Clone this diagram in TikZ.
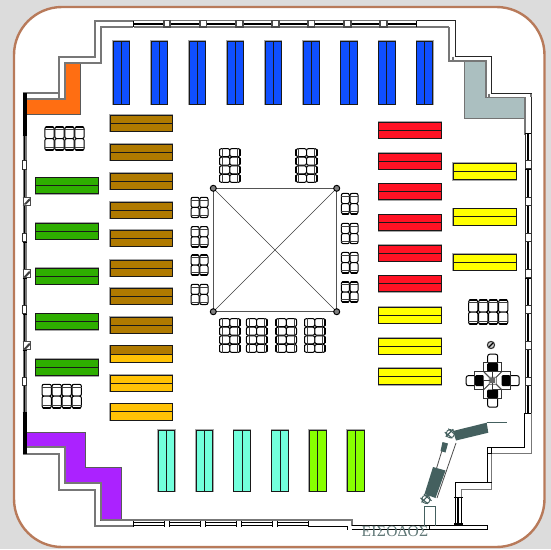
\documentclass[tikz,border=0pt]{standalone}
\usepackage{fontspec}
\newfontfamily\signfont[LetterSpace=2.5]{Liberation Serif}
\definecolor{bgc}{HTML}{DCDCDC}
\definecolor{framec}{HTML}{B87A5A}
\definecolor{wallg}{HTML}{777777}
\definecolor{slatec}{HTML}{44605F}
\definecolor{cblue}{HTML}{0F4FFF}
\definecolor{cbrown}{HTML}{B07A00}
\definecolor{cgreen}{HTML}{2EAE00}
\definecolor{corange}{HTML}{FF6E12}
\definecolor{cpurple}{HTML}{AB22FF}
\definecolor{cred}{HTML}{FF1224}
\definecolor{cyellow}{HTML}{FFFF00}
\definecolor{cgold}{HTML}{FFC205}
\definecolor{ccyan}{HTML}{72FFDC}
\definecolor{clime}{HTML}{88FF00}
\definecolor{cgrey}{HTML}{ABBFC0}
\tikzset{
 halo/.style={draw=gray!70,line width=1.8},
 shelfline/.style={draw=black!90,line width=.9},
 wallout/.style={draw=wallg,line width=1.7,line join=miter},
 wallblk/.style={draw=black!85,line width=1.2,line join=miter},
 area/.style={draw=black!65,line width=.9,line join=miter},
 chairline/.style={draw=black,line width=1},
 slateline/.style={draw=slatec,line width=.8},
}
\newcommand{\shelfH}[6][]{%
 \path[halo] (#2,#3) rectangle (#4,#5);
 \fill[#6] (#2,#3) rectangle (#4,#5);
 \path[shelfline] (#2,#3) rectangle (#4,#5) (#2,{(#3+#5)/2}) -- (#4,{(#3+#5)/2});}
\newcommand{\shelfV}[5]{%
 \path[halo] (#1,#2) rectangle (#3,#4);
 \fill[#5] (#1,#2) rectangle (#3,#4);
 \path[shelfline] (#1,#2) rectangle (#3,#4) ({(#1+#3)/2},#2) -- ({(#1+#3)/2},#4);}
\newcommand{\chairW}[5]{%
 \begin{scope}[shift={({#1},{#2})},rotate=#3]
 \draw[chairline,fill=white,rounded corners=2] ({-#4/2+.3},{-#5/2}) rectangle ({#4/2-.3},{#5/2});
 \draw[black,line width=1.5,line cap=round] ({-#4/2+1.5},{-#5/2}) -- ({#4/2-1.5},{-#5/2});
 \draw[black!75,line width=.7] ({-#4/2},{-#5/2+2.6}) -- ({#4/2},{-#5/2+2.6});
 \end{scope}}
\newcommand{\groupH}[5]{%
 \foreach \i in {1,...,#3}{
  \chairW{#1+(\i-.5)*#4}{#2+#5/2}{0}{#4}{#5}
  \chairW{#1+(\i-.5)*#4}{#2+1.5*#5}{180}{#4}{#5}}}
\newcommand{\groupV}[5]{%
 \foreach \i in {1,...,#3}{
  \chairW{#1+#5/2}{#2+(\i-.5)*#4}{90}{#4}{#5}
  \chairW{#1+1.5*#5}{#2+(\i-.5)*#4}{-90}{#4}{#5}}}
\newcommand{\winTop}[2]{%
 \fill[white] (#1,20.7) rectangle (#2,27);
 \draw[wallg,line width=1.3] (#1,20.7) -- (#2,20.7) (#1,27) -- (#2,27);
 \draw[black,line width=1.5] (#1,24) -- (#2,24);
 \draw[black,line width=1.1] (#1,21) -- (#1,27) (#2,21) -- (#2,27);}
\newcommand{\winBot}[2]{%
 \fill[white] (#1,520) rectangle (#2,526);
 \draw[black,line width=1] (#1,522) -- (#2,522) (#1,525.7) -- (#2,525.7) (#1,520) -- (#1,526.5) (#2,520) -- (#2,526.5);}
\newcommand{\winLeft}[2]{%
 \fill[wallg] (22.7,#1) rectangle (27.3,#2);
 \draw[black,line width=1.2] (24.7,#1) -- (24.7,#2);
 \draw[black,line width=1] (22.5,#1) -- (27,#1) (22.5,#2) -- (27,#2);}
\newcommand{\winRight}[2]{%
 \fill[white] (525,#1) rectangle (531,#2);
 \draw[black!80,line width=1] (525,#1) -- (525,#2) (531,#1) -- (531,#2);
 \draw[black,line width=1.6] (528,#1) -- (528,#2);
 \draw[black,line width=1] (525,#1) -- (531,#1) (525,#2) -- (531,#2);}
\newcommand{\hatchbox}[1]{%
 \fill[white] (23,#1) rectangle (30.5,#1+8);
 \draw[black!70,line width=.8] (23,#1) rectangle (30.5,#1+8);
 \fill[black!75] (23.5,#1+7.5) -- (29.5,#1+1) -- (30,#1+3.5) -- (26,#1+7.5) -- cycle;}
\newcommand{\hinge}[2]{%
 \draw[slateline,fill=white,line width=.9] (#1,#2) circle (4.2);
 \draw[slateline,line width=1.1] (#1-5.5,#2-1.5) -- (#1+2,#2+4.5) (#1-2,#2-5) -- (#1+5.5,#2+1.5) (#1-4.5,#2+3) -- (#1+3,#2-4.5);}
\begin{document}
\begin{tikzpicture}[x=1pt,y=-1pt]
\useasboundingbox (0,0) rectangle (551,549);
\fill[bgc] (0,0) rectangle (551,549);
\draw[framec,line width=2.4,fill=white,rounded corners=48] (14,7) rectangle (544.5,547);

% coloured corner areas
\path[area,fill=corange] (65,63.5) -- (80.7,63.5) -- (80.7,114.3) -- (26,114.3) -- (26,99.3) -- (65,99.3) -- cycle;
\path[area,fill=cpurple] (26.7,432) -- (85.7,432) -- (85.7,467.7) -- (121.3,467.7) -- (121.3,520) -- (100.7,520) -- (100.7,483.3) -- (65,483.3) -- (65,447.3) -- (26.7,447.3) -- cycle;
\path[draw=black!55,line width=1.1,fill=cgrey] (464.3,61.3) -- (485.7,61.3) -- (485.7,97.3) -- (524.7,97.3) -- (524.7,118.3) -- (464.3,118.3) -- cycle;

% stepped walls
\path[wallout] (26.7,99) -- (64.7,99) -- (64.7,63.3) -- (100.7,63.3) -- (100.7,27) -- (133,27);
\path[wallout] (22.7,93.3) -- (58.7,93.3) -- (58.7,56.7) -- (94.7,56.7) -- (94.7,20.7) -- (133.5,20.7);
\path[wallout] (26.7,447.3) -- (64.7,447.3) -- (64.7,483.3) -- (100.7,483.3) -- (100.7,520);
\path[wallout] (22.7,454) -- (58.7,454) -- (58.7,490) -- (94.7,490) -- (94.7,525.7) -- (133.5,525.7);
\draw[wallout] (64.7,99) -- (58.7,99) -- (58.7,93.3);
\fill[black] (22.7,93) rectangle (27,135);
\fill[black] (22.7,412) rectangle (27,454);

% top wall
\winTop{133.5}{164}\winTop{170}{200}\winTop{206.5}{236}\winTop{243}{272}\winTop{279}{308}\winTop{314.5}{344}\winTop{351}{380}\winTop{387}{416.5}
\foreach \a/\b in {164/170,200/206.5,236/243,272/279,308/314.5,344/351,380/387}{
 \draw[black!70,line width=1.1,fill=white] (\a,20.7) rectangle (\b,27);}
\draw[wallout] (416.5,27) -- (449.3,27);
% top-right steps
\path[wallblk] (416.5,20.7) -- (455.3,20.7) -- (455.3,56.7) -- (491.3,56.7) -- (491.3,93.7) -- (531.3,93.7) -- (531.3,135);
\path[wallout] (449.3,27) -- (449.3,61.3) -- (485.7,61.3) -- (485.7,97.3);
\draw[wallg,line width=1.2] (453,56.7) -- (453,61.3) (489,93.7) -- (489,97.3) (531,93.7) -- (531,97.3);
\draw[wallout] (524.7,97.3) -- (524.7,135);

% left wall
\foreach \a/\b in {135/160.5,169.5/197,205/233,242/269,278/305,314/341,350/377,385/412}{\winLeft{\a}{\b}}
\foreach \a in {160.5,233,305,377}{\draw[black!80,line width=.9,fill=white] (22.7,\a) rectangle (26.8,\a+8.7);}
\hatchbox{197}\hatchbox{269.5}\hatchbox{341.5}

% right wall
\foreach \a/\b in {133/160.7,169.3/197,205/233,241/269,278/305.5,313.5/341,349/377,385/413}{\winRight{\a}{\b}}
\foreach \a in {160.7,197,233,269.5,305.5,341,377}{\draw[black!80,line width=.9,fill=white] (525,\a) rectangle (531,\a+8.2);}
% bottom-right walls
\draw[black,line width=1.2] (524.6,413) -- (524.6,447.3) -- (487.3,447.3) -- (487.3,482.7) -- (455.3,482.7) -- (455.3,497);
\draw[wallg,line width=1.5] (531.5,413) -- (531.5,453.3) -- (491.7,453.3) -- (491.7,489.3) -- (461.7,489.3) -- (461.7,497);
\draw[black,line width=1] (487.3,453.3) -- (491.7,453.3);
\draw[black,line width=1] (491.7,447.3) -- (491.7,453.3) (487.3,482.7) -- (491.7,482.7);
\draw[black,line width=1.3] (458,497) -- (458,525) (455.3,497) -- (455.3,525) (461.7,497) -- (461.7,525);
\draw[black,line width=1] (454,497.5) -- (462.5,497.5);
\fill[black] (454,523) rectangle (463,526);
\draw[black,line width=1,fill=white] (429.3,525) rectangle (487.7,529.3);

% bottom wall
\winBot{133.5}{164.3}\winBot{169.2}{200}\winBot{205.7}{236.7}\winBot{241.7}{272.3}\winBot{277.7}{308.3}
\draw[wallg,line width=1.8] (100.7,520) -- (351.7,520) -- (351.7,525.5);
\draw[black,line width=1] (308.3,526) -- (347.7,526) -- (347.7,529.5) (351.7,525.8) -- (429.3,525.8) (351.7,529.3) -- (429.3,529.3);

% blue shelves
\foreach \x in {113,151,189,227,265,303,340.7,378.6,416.4}{\shelfV{\x}{41}{\x+16.5}{104}{cblue}}
% brown shelves
\foreach \y in {115,144,173,202,230,260,288,317}{\shelfH{110}{\y}{172.5}{\y+16.3}{cbrown}}
\shelfH{110}{375}{172.5}{391.3}{cgold}
\shelfH{110}{403.5}{172.5}{420}{cgold}
\path[halo] (110,345.5) rectangle (172.5,362);
\fill[cbrown] (110,345.5) rectangle (172.5,354);
\fill[cgold] (110,354) rectangle (172.5,362);
\path[shelfline] (110,345.5) rectangle (172.5,362) (110,354) -- (172.5,354);
% green
\foreach \y in {177.5,223,268,313.5,359.3}{\shelfH{35.5}{\y}{98}{\y+16.3}{cgreen}}
% red
\foreach \y in {122,153,183.5,214.5,245,275.5}{\shelfH{378.5}{\y}{441.5}{\y+16.3}{cred}}
% yellow
\foreach \y in {307,338,368.3}{\shelfH{378.5}{\y}{441.5}{\y+16.3}{cyellow}}
\foreach \y in {163.3,208.7,254}{\shelfH{453}{\y}{516}{\y+16.3}{cyellow}}
% cyan and lime
\foreach \x in {158,196,233.7,271.7}{\shelfV{\x}{430}{\x+16.7}{491.5}{ccyan}}
\foreach \x in {309.3,347.3}{\shelfV{\x}{430}{\x+16.7}{491.5}{clime}}

% central square
\draw[wallg!70!black,line width=1.3] (213.3,188.3) rectangle (336.7,311.7);
\draw[black!75,line width=.6] (213.3,188.3) -- (336.7,311.7) (336.7,188.3) -- (213.3,311.7);
\foreach \x/\y in {213.3/188.3,336.7/188.3,213.3/311.7,336.7/311.7}{
 \draw[black,line width=1,fill=gray] (\x,\y) circle (3);}

% chair groups
\groupH{44.5}{127}{4}{10}{11.6}
\groupH{41.7}{384.3}{4}{10}{11.8}
\groupH{468.2}{300.2}{4}{10}{11.9}
\groupV{219.5}{148.3}{4}{8.6}{10.3}
\groupV{296.2}{148.3}{4}{8.6}{10.3}
\foreach \y in {197.3,226.7,255,284.3}{\groupH{190.7}{\y}{2}{8.8}{10.1}}
\foreach \y in {193.4,223.3,252.4,281.8}{\groupH{341}{\y}{2}{8.7}{10.2}}
\foreach \x in {219.5,246.3,276,304.5}{\groupV{\x}{318.3}{4}{8.6}{10.3}}

% information point: clock and cross desk
\draw[black!80,line width=1.1,fill=gray!40] (491,345) circle (3.6);
\draw[black,line width=1.2] (489,347) -- (493,343);
\foreach \r in {0,90,180,270}{
 \begin{scope}[shift={(492.7,380.7)},rotate=\r]
 \draw[black,line width=1,fill=white,rounded corners=2] (-5,-26.5) rectangle (5,-16);
 \draw[black!80,line width=.8,fill=white] (-9,-18) rectangle (9,0);
 \fill[black,rounded corners=1] (-5.5,-17.5) rectangle (5.5,-9);
 \end{scope}}
\foreach \r in {0,90,180,270}{
 \begin{scope}[shift={(492.7,380.7)},rotate=\r]
 \draw[black!70,line width=.8] (-8.7,-8.7) -- (-3.5,-3.5) (8.7,-8.7) -- (3.5,-3.5) (-3.5,-3.5) -- (3.5,-3.5);
 \end{scope}}
\fill[gray!80!black] (490.2,378.2) rectangle (495.2,383.2);

% entrance revolving doors
\draw[slateline,line width=.9] (424,506) -- (424,526) (435.3,506) -- (435.3,526) (424,506) -- (435.3,506);
\draw[black!70,line width=.8] (444.3,443) -- (428,496) (456,443) -- (437,498);
\fill[slatec] (453,431) -- (486.7,422.7) -- (488.3,432.7) -- (456,440.5) -- cycle;
\draw[slatec,line width=1.1] (486.7,422.7) -- (506.7,422.7);
\fill[slatec] (433,467) -- (445.5,470.5) -- (435.5,498) -- (424.5,494) -- cycle;
\fill[slatec] (442.5,442) -- (448,443.5) -- (445.5,452.5) -- (440.5,451) -- cycle;
\hinge{450.3}{433.7}
\hinge{426}{499.3}

\node[inner sep=0pt,anchor=base west,text=slatec!85!white] (entrance) at (361.3,536) {\fontsize{15.5}{16}\signfont ΕΙΣΟΔΟΣ};
\end{tikzpicture}
\end{document}
